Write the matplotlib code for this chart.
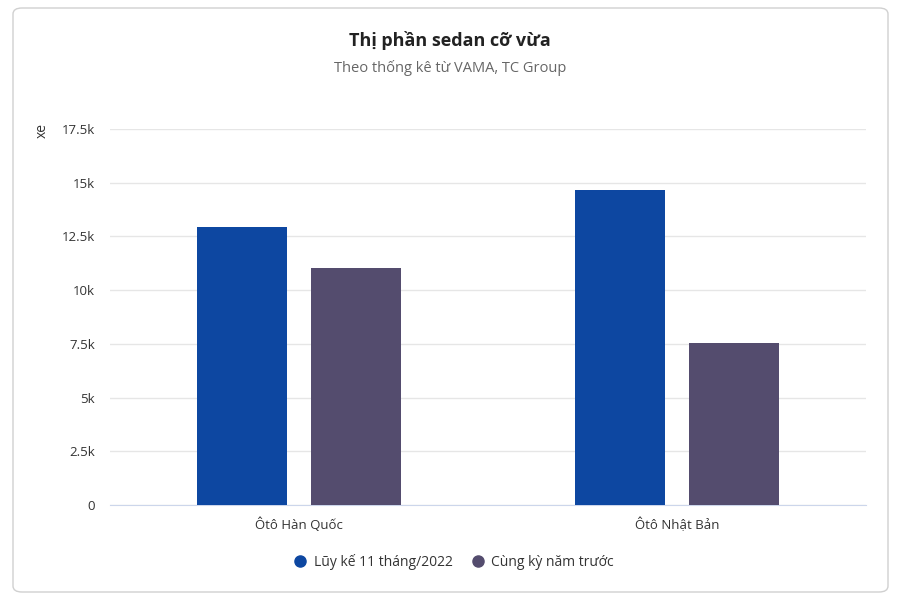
import numpy as np
import matplotlib
matplotlib.use("Agg")
import matplotlib.pyplot as plt
from matplotlib.patches import FancyBboxPatch
from matplotlib.lines import Line2D
from matplotlib.ticker import FuncFormatter

plt.rcParams["font.family"] = ["Open Sans", "DejaVu Sans"]

# --------------------------------------------------
# DATA
# --------------------------------------------------

categories = ["Ôtô Hàn Quốc", "Ôtô Nhật Bản"]
series_names = ["Lũy kế 11 tháng/2022", "Cùng kỳ năm trước"]
luy_ke_2022 = [12950, 14680]
cung_ky_truoc = [11030, 7540]
colors = ["#0D47A1", "#544C6E"]

# --------------------------------------------------
# PLOT
# --------------------------------------------------

fig = plt.figure(figsize=(9, 6), dpi=100)
fig.patch.set_facecolor("white")

# rounded card behind everything
card = FancyBboxPatch((13 / 900, 8 / 600), 875 / 900, 584 / 600,
                      boxstyle="round,pad=0,rounding_size=0.01",
                      transform=fig.transFigure, facecolor="white",
                      edgecolor="#d0d0d0", linewidth=1.0, zorder=-10)
fig.patches.append(card)

ax = fig.add_axes([110 / 900, 1 - 505 / 600, 756 / 900, 376 / 600])
ax.set_zorder(5)
ax.patch.set_alpha(0)
x = np.arange(len(categories))
w = 0.238
off = 0.151
ax.bar(x - off, luy_ke_2022, w, color=colors[0], zorder=3)
ax.bar(x + off, cung_ky_truoc, w, color=colors[1], zorder=3)

ax.set_xlim(-0.5, len(categories) - 0.5)
ax.set_ylim(0, 17500)
ax.set_yticks(np.arange(0, 17501, 2500))


def fmt(v, _):
    if v == 0:
        return "0"
    return f"{v / 1000:g}k"


ax.yaxis.set_major_formatter(FuncFormatter(fmt))
ax.set_xticks(x)
ax.set_xticklabels(categories)
ax.tick_params(axis="y", length=0, pad=11, labelsize=9.5, labelcolor="#333333")
ax.tick_params(axis="x", length=0, pad=9, labelsize=9.5, labelcolor="#333333")
ax.grid(axis="y", color="#e6e6e6", linewidth=1, zorder=0)
for s in ["top", "right", "left"]:
    ax.spines[s].set_visible(False)
ax.spines["bottom"].set_color("#ccd6eb")

fig.text(42 / 900, 1 - 131 / 600, "xe", rotation=90, ha="center", va="center",
         fontsize=10, color="#333333")

fig.text(450 / 900, 1 - 41 / 600, "Thị phần sedan cỡ vừa", ha="center",
         va="center", fontsize=13, fontweight="bold", color="#222222")
fig.text(450 / 900, 1 - 68 / 600, "Theo thống kê từ VAMA, TC Group",
         ha="center", va="center", fontsize=10.5, color="#666666")

handles = [Line2D([0], [0], marker="o", linestyle="", markersize=8,
                  markerfacecolor=c, markeredgecolor=c) for c in colors]
fig.legend(handles, series_names, loc="center", bbox_to_anchor=(450 / 900, 1 - 562 / 600),
           ncol=2, frameon=False, fontsize=10, labelcolor="#333333",
           handletextpad=0.0, columnspacing=0.8)

fig.savefig("out.png", dpi=100)
plt.close(fig)
